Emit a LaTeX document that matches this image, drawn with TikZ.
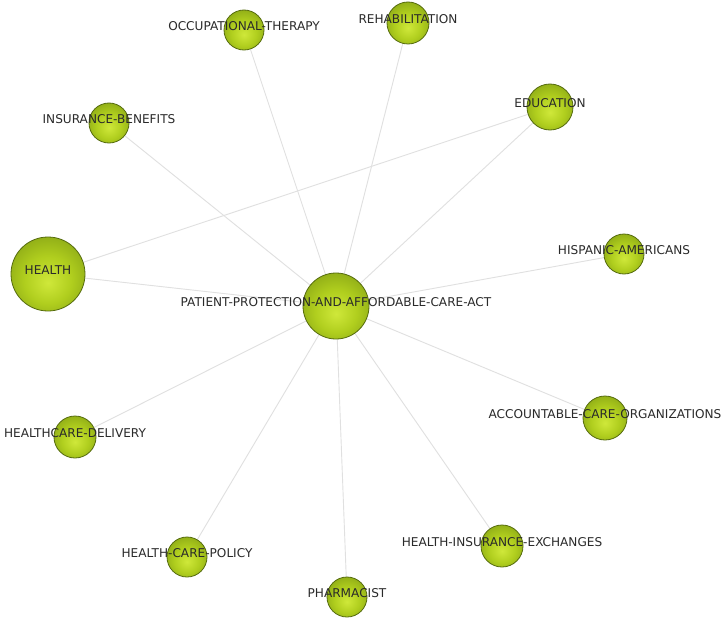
\documentclass[tikz,border=0pt]{standalone}
\usepackage{fontspec}
\newfontfamily\lblfont{DejaVu Sans}
\definecolor{gin}{HTML}{CFE83A}
\definecolor{gmid}{HTML}{B0CE1E}
\definecolor{gout}{HTML}{708C10}
\definecolor{gline}{HTML}{566C0E}
\definecolor{edgecol}{HTML}{E0E0E0}
\definecolor{txtcol}{HTML}{2A2A2A}
\pgfdeclareradialshading{greenball}{\pgfpoint{0bp}{-6bp}}{color(0bp)=(gin); color(16bp)=(gmid); color(42bp)=(gout); color(50bp)=(gout)}
\pgfdeclarelayer{back}
\pgfdeclarelayer{edges}
\pgfsetlayers{back,edges,main}
\tikzset{
  ball/.style={circle, shading=greenball, draw=gline, line width=0.8pt, inner sep=0pt, minimum size=#1},
  lbl/.style={text=txtcol, font=\lblfont\fontsize{12.1}{13}\selectfont, inner sep=0pt, yshift=4pt},
  edge/.style={draw=edgecol, line width=0.9pt}
}
\begin{document}
\begin{tikzpicture}[x=1pt,y=-1pt]
\begin{pgfonlayer}{back}
\fill[white] (0,0) rectangle (723,618);
\end{pgfonlayer}
\useasboundingbox (0,0) rectangle (723,618);
\node[ball=66pt, label={[lbl]center:PATIENT-PROTECTION-AND-AFFORDABLE-CARE-ACT}] (ppaca) at (336,306) {};
\node[ball=74pt, label={[lbl]center:HEALTH}] (health) at (48,274) {};
\node[ball=40pt, label={[lbl]center:OCCUPATIONAL-THERAPY}] (ot) at (244,30) {};
\node[ball=42pt, label={[lbl]center:REHABILITATION}] (rehab) at (408,23) {};
\node[ball=46pt, label={[lbl]center:EDUCATION}] (edu) at (550,107) {};
\node[ball=40pt, label={[lbl]center:INSURANCE-BENEFITS}] (ib) at (109,123) {};
\node[ball=40pt, label={[lbl]center:HISPANIC-AMERICANS}] (ha) at (624,254) {};
\node[ball=44pt, label={[lbl]center:ACCOUNTABLE-CARE-ORGANIZATIONS}] (aco) at (605,418) {};
\node[ball=42pt, label={[lbl]center:HEALTHCARE-DELIVERY}] (hd) at (75,437) {};
\node[ball=42pt, label={[lbl]center:HEALTH-INSURANCE-EXCHANGES}] (hie) at (502,546) {};
\node[ball=40pt, label={[lbl]center:HEALTH-CARE-POLICY}] (hcp) at (187,557) {};
\node[ball=40pt, label={[lbl]center:PHARMACIST}] (ph) at (347,597) {};
\begin{pgfonlayer}{edges}
\foreach \n in {health,ot,rehab,edu,ib,ha,aco,hd,hie,hcp,ph}
  \draw[edge] (ppaca.center) -- (\n.center);
\draw[edge] (health.center) -- (edu.center);
\end{pgfonlayer}
\end{tikzpicture}
\end{document}
